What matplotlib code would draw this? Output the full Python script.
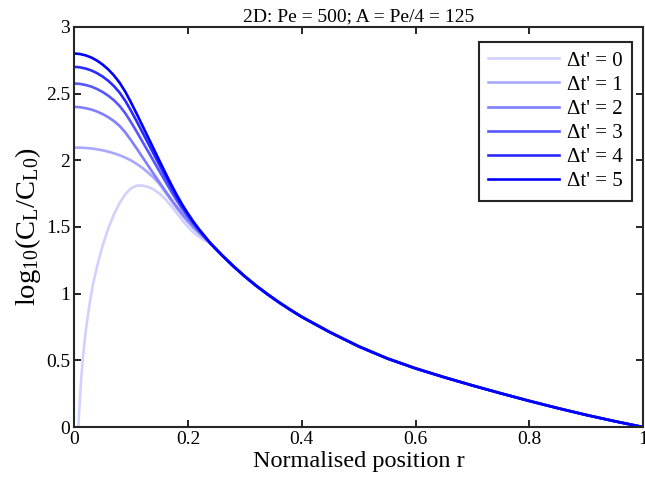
import matplotlib
matplotlib.use("Agg")
import matplotlib.pyplot as plt

# ---- data ----
r_head = [0.00, 0.01, 0.02, 0.03, 0.04, 0.05, 0.06, 0.07, 0.08, 0.09, 0.10, 0.11,
          0.12, 0.13, 0.14, 0.15, 0.16, 0.17, 0.18, 0.19, 0.20, 0.21, 0.22, 0.23]
y_dt5 = [2.800, 2.796, 2.786, 2.770, 2.747, 2.717, 2.680, 2.635, 2.580, 2.512, 2.432, 2.347,
         2.259, 2.171, 2.083, 1.995, 1.908, 1.823, 1.742, 1.667, 1.600, 1.537, 1.480, 1.428]
y_dt4 = [2.700, 2.696, 2.687, 2.673, 2.653, 2.627, 2.595, 2.555, 2.506, 2.444, 2.370, 2.291,
         2.209, 2.127, 2.045, 1.963, 1.881, 1.801, 1.724, 1.653, 1.589, 1.529, 1.475, 1.425]
y_dt3 = [2.575, 2.572, 2.564, 2.552, 2.534, 2.511, 2.483, 2.449, 2.406, 2.351, 2.284, 2.213,
         2.139, 2.065, 1.991, 1.917, 1.843, 1.770, 1.700, 1.635, 1.576, 1.520, 1.469, 1.422]
y_dt2 = [2.400, 2.397, 2.390, 2.380, 2.365, 2.346, 2.322, 2.293, 2.256, 2.208, 2.149, 2.087,
         2.023, 1.959, 1.896, 1.833, 1.771, 1.711, 1.653, 1.599, 1.550, 1.502, 1.458, 1.416]
y_dt1 = [2.095, 2.094, 2.092, 2.088, 2.082, 2.074, 2.064, 2.052, 2.037, 2.019, 1.998, 1.972,
         1.942, 1.907, 1.868, 1.822, 1.763, 1.702, 1.642, 1.587, 1.536, 1.490, 1.450, 1.414]

r_dt0 = [0.0075, 0.009, 0.0105, 0.0125, 0.015, 0.018, 0.022, 0.027, 0.033, 0.04,
         0.05, 0.06, 0.07, 0.08, 0.09, 0.10, 0.11, 0.12, 0.13, 0.14, 0.15, 0.16,
         0.17, 0.18, 0.19, 0.20, 0.21, 0.22, 0.23]
y_dt0 = [0.0, 0.13, 0.24, 0.37, 0.50, 0.63, 0.775, 0.92, 1.07, 1.20,
         1.36, 1.49, 1.595, 1.68, 1.745, 1.79, 1.81, 1.81, 1.80, 1.78, 1.75, 1.71,
         1.66, 1.605, 1.55, 1.50, 1.458, 1.425, 1.398]

r_tail = [0.24, 0.26, 0.28, 0.30, 0.32, 0.34, 0.36, 0.38, 0.40, 0.45, 0.50, 0.55,
          0.60, 0.65, 0.70, 0.75, 0.80, 0.85, 0.90, 0.95, 1.0]
y_tail = [1.375, 1.287, 1.205, 1.129, 1.059, 0.995, 0.935, 0.879, 0.826, 0.710, 0.605, 0.515,
          0.440, 0.374, 0.312, 0.253, 0.196, 0.142, 0.091, 0.044, 0.0]

labels = ["Δt' = 0", "Δt' = 1", "Δt' = 2", "Δt' = 3", "Δt' = 4", "Δt' = 5"]
title = "2D: Pe = 500; A = Pe/4 = 125"
xticks = [0, 0.2, 0.4, 0.6, 0.8, 1]
xtick_labels = ["0", "0.2", "0.4", "0.6", "0.8", "1"]
yticks = [0, 0.5, 1, 1.5, 2, 2.5, 3]
ytick_labels = ["0", "0.5", "1", "1.5", "2", "2.5", "3"]

plt.rcParams['font.family'] = ['Liberation Serif', 'DejaVu Serif']
plt.rcParams['mathtext.fontset'] = 'custom'
plt.rcParams['mathtext.rm'] = 'Liberation Serif'
plt.rcParams['mathtext.it'] = 'Liberation Serif:italic'

fig = plt.figure(figsize=(6.45, 4.87), dpi=100)
ax = fig.add_axes([0.115, 0.123, 0.882, 0.822])

heads_r = [r_dt0, r_head, r_head, r_head, r_head, r_head]
heads_y = [y_dt0, y_dt1, y_dt2, y_dt3, y_dt4, y_dt5]
colors = [(0.82, 0.82, 1.0), (0.66, 0.66, 1.0), (0.50, 0.50, 1.0),
          (0.34, 0.34, 1.0), (0.17, 0.17, 1.0), (0.0, 0.0, 1.0)]
for k in range(6):
    xs = list(heads_r[k]) + r_tail
    ys = list(heads_y[k]) + y_tail
    ax.plot(xs, ys, color=colors[k], lw=1.9, label=labels[k])

ax.set_xlim(0, 1)
ax.set_ylim(0, 3)
ax.set_xticks(xticks)
ax.set_xticklabels(xtick_labels)
ax.set_yticks(yticks)
ax.set_yticklabels(ytick_labels)
ax.tick_params(direction='in', top=True, right=True, length=5, width=1.2,
               labelsize=14, pad=3)
for s in ax.spines.values():
    s.set_linewidth(1.5)
    s.set_color('#262626')

ax.set_xlabel("Normalised position r", fontsize=17.5, labelpad=2)
ax.set_ylabel(r"log$_{10}$(C$_{\rm L}$/C$_{\rm L0}$)", fontsize=20.5, labelpad=2)
ax.set_title(title, fontsize=14, pad=4)

leg = ax.legend(loc='upper right', fontsize=15, frameon=True, fancybox=False,
                handlelength=3.4, borderpad=0.45, labelspacing=0.22,
                handletextpad=0.35, borderaxespad=0.0,
                bbox_to_anchor=(0.980, 0.963))
leg.get_frame().set_edgecolor('#262626')
leg.get_frame().set_linewidth(1.5)
leg.get_frame().set_alpha(1)

fig.savefig("out.png", dpi=100)
